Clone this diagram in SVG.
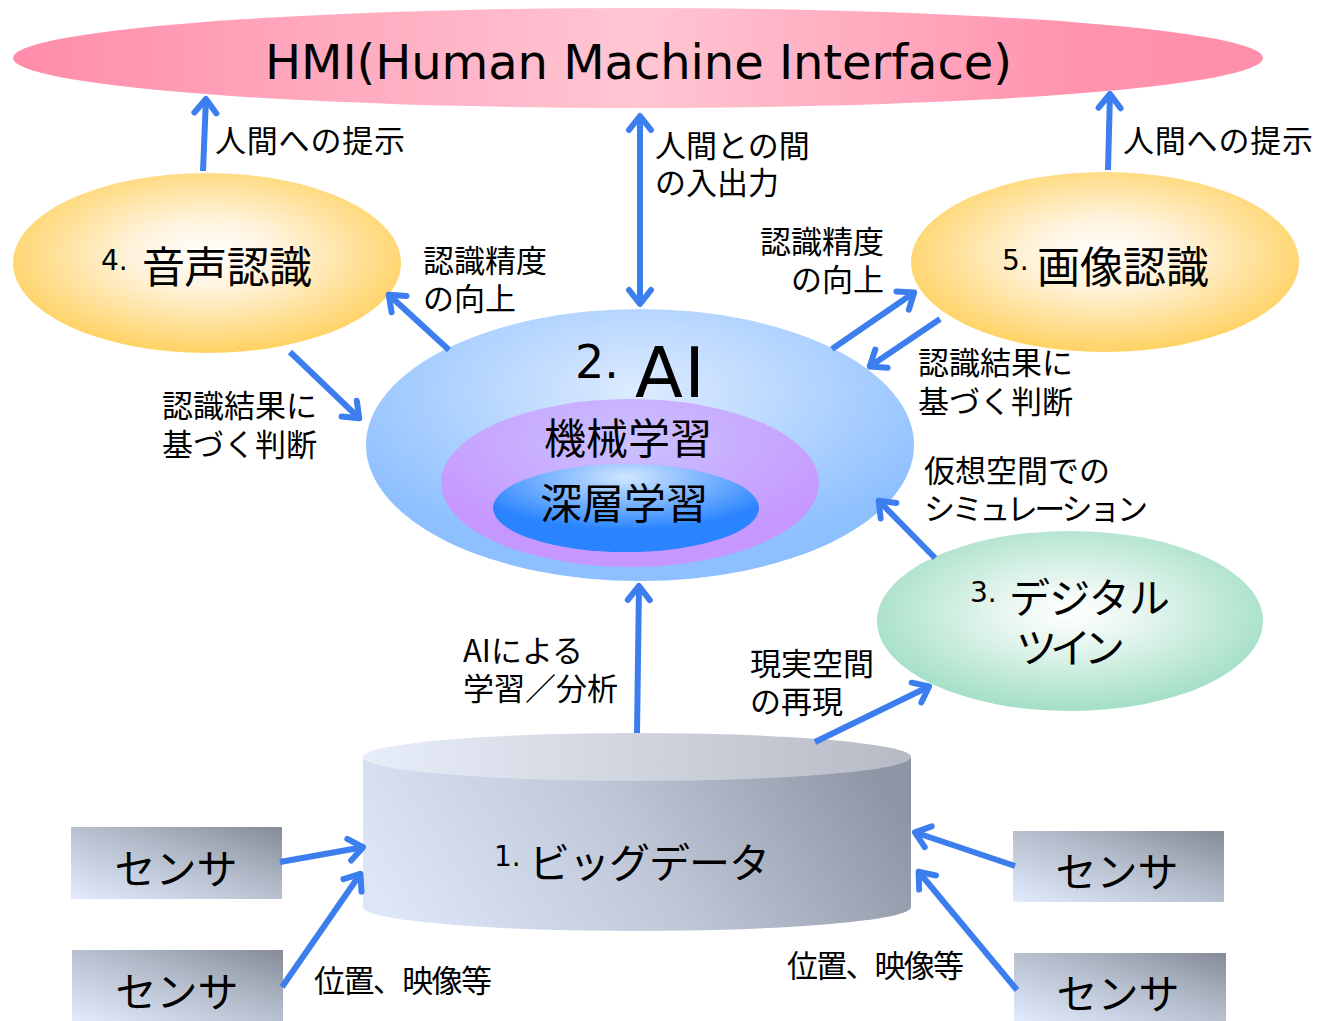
<svg xmlns="http://www.w3.org/2000/svg" width="1317" height="1021" viewBox="0 0 1317 1021">
  <style>
    text { font-family: "Noto Sans CJK JP", "Noto Sans", sans-serif; fill: #000; }
    .lat { font-family: "DejaVu Sans", "Noto Sans CJK JP", sans-serif; }
    .lbl { font-size: 31px; }
    .big { font-size: 43px; }
    .num { font-size: 28px; font-family: "DejaVu Sans", sans-serif; }
    .conn line { stroke: #3D7EEE; stroke-width: 6; fill: none; marker-end: url(#ah); }
    .sensor text { font-size: 41px; text-anchor: middle; }
  </style>
  <defs>
    <marker id="ah" viewBox="-20 -14 24 28" markerWidth="24" markerHeight="28" refX="0" refY="0" orient="auto-start-reverse" markerUnits="userSpaceOnUse" overflow="visible">
      <path d="M-15,-11 L-1,0 L-15,11" fill="none" stroke="#3D7EEE" stroke-width="6" stroke-linecap="round" stroke-linejoin="round"/>
    </marker>
    <linearGradient id="gHmi" x1="0" y1="0" x2="1" y2="0">
      <stop offset="0" stop-color="#FF8CAA"/>
      <stop offset="0.5" stop-color="#FFC6D3"/>
      <stop offset="0.85" stop-color="#FF93AE"/>
      <stop offset="1" stop-color="#FF8FAB"/>
    </linearGradient>
    <radialGradient id="gYel" cx="0.5" cy="0.45" r="0.55">
      <stop offset="0" stop-color="#FFFFFF"/>
      <stop offset="0.35" stop-color="#FFF3DC"/>
      <stop offset="1" stop-color="#FFD263"/>
    </radialGradient>
    <radialGradient id="gGrn" cx="0.5" cy="0.45" r="0.55">
      <stop offset="0" stop-color="#FFFFFF"/>
      <stop offset="0.3" stop-color="#EAF7F1"/>
      <stop offset="1" stop-color="#A3DFC6"/>
    </radialGradient>
    <radialGradient id="gAi" cx="0.5" cy="0.3" r="0.6">
      <stop offset="0" stop-color="#DDEBFF"/>
      <stop offset="1" stop-color="#8EC0FF"/>
    </radialGradient>
    <radialGradient id="gMl" cx="0.5" cy="0.25" r="0.6">
      <stop offset="0" stop-color="#CBC2FF"/>
      <stop offset="1" stop-color="#C698FF"/>
    </radialGradient>
    <radialGradient id="gDl" cx="0.5" cy="0.15" r="0.6">
      <stop offset="0" stop-color="#CFE6FF"/>
      <stop offset="1" stop-color="#2A84FF"/>
    </radialGradient>
    <linearGradient id="gSen" x1="0" y1="1" x2="1" y2="0">
      <stop offset="0" stop-color="#E1EBFC"/>
      <stop offset="0.55" stop-color="#B4BCCB"/>
      <stop offset="1" stop-color="#858B97"/>
    </linearGradient>
    <linearGradient id="gCylSide" x1="0" y1="0.6" x2="1" y2="0.4">
      <stop offset="0" stop-color="#DCE6F8"/>
      <stop offset="0.5" stop-color="#BFC7D7"/>
      <stop offset="1" stop-color="#8E95A5"/>
    </linearGradient>
    <linearGradient id="gCylTop" x1="0" y1="0" x2="1" y2="0">
      <stop offset="0" stop-color="#E8EEF9"/>
      <stop offset="1" stop-color="#B6BAC4"/>
    </linearGradient>
  </defs>

  <!-- HMI layer -->
  <g id="hmi">
    <ellipse cx="638" cy="58" rx="625" ry="50" fill="url(#gHmi)"/>
    <text class="lat" x="265" y="79" font-size="48" textLength="747">HMI(Human Machine Interface)</text>
  </g>

  <!-- 4. speech recognition -->
  <g id="speech">
    <ellipse cx="207" cy="263" rx="194" ry="90" fill="url(#gYel)"/>
    <text class="num" x="101" y="270">4.</text>
    <text class="big" x="142" y="283" textLength="170">音声認識</text>
  </g>

  <!-- 5. image recognition -->
  <g id="image">
    <ellipse cx="1105" cy="262" rx="194" ry="90" fill="url(#gYel)"/>
    <text class="num" x="1002" y="270">5.</text>
    <text class="big" x="1037" y="283" textLength="172">画像認識</text>
  </g>

  <!-- 2. AI with nested ML / DL -->
  <g id="ai">
    <ellipse cx="640" cy="445" rx="274" ry="136" fill="url(#gAi)"/>
    <ellipse cx="630" cy="483" rx="189" ry="84" fill="url(#gMl)"/>
    <ellipse cx="626" cy="508" rx="133" ry="44" fill="url(#gDl)"/>
    <text class="lat" x="575" y="378" font-size="46">2.</text>
    <text class="lat" x="635" y="397" font-size="70" textLength="70">AI</text>
    <text x="628" y="454" font-size="42" text-anchor="middle">機械学習</text>
    <text x="624" y="519" font-size="42" text-anchor="middle">深層学習</text>
  </g>

  <!-- 3. digital twin -->
  <g id="twin">
    <ellipse cx="1070" cy="621" rx="193" ry="90" fill="url(#gGrn)"/>
    <text class="num" x="970" y="602">3.</text>
    <text font-size="41"><tspan x="1009" y="613" textLength="161">デジタル</tspan><tspan x="1016" y="663" textLength="109">ツイン</tspan></text>
  </g>

  <!-- 1. big data store -->
  <g id="bigdata">
    <path d="M363,757 L363,907 A274,24 0 0 0 911,907 L911,757 Z" fill="url(#gCylSide)"/>
    <ellipse cx="637" cy="757" rx="274" ry="24" fill="url(#gCylTop)"/>
    <text class="num" x="494" y="866">1.</text>
    <text x="529" y="878" font-size="41" textLength="241">ビッグデータ</text>
  </g>

  <!-- sensors -->
  <g id="sensor-tl" class="sensor">
    <rect x="71" y="827" width="211" height="72" fill="url(#gSen)"/>
    <text x="176" y="884">センサ</text>
  </g>
  <g id="sensor-bl" class="sensor">
    <rect x="72" y="950" width="211" height="71" fill="url(#gSen)"/>
    <text x="177" y="1007">センサ</text>
  </g>
  <g id="sensor-tr" class="sensor">
    <rect x="1013" y="831" width="211" height="71" fill="url(#gSen)"/>
    <text x="1117" y="887">センサ</text>
  </g>
  <g id="sensor-br" class="sensor">
    <rect x="1014" y="953" width="212" height="68" fill="url(#gSen)"/>
    <text x="1118" y="1009">センサ</text>
  </g>

  <!-- connectors -->
  <g id="connectors" class="conn">
    <line x1="203" y1="171" x2="206" y2="98"/>
    <line x1="1108" y1="170" x2="1110" y2="93"/>
    <line x1="640" y1="115" x2="640" y2="305" marker-start="url(#ah)"/>
    <line x1="449" y1="350" x2="388" y2="294"/>
    <line x1="290" y1="352" x2="360" y2="419"/>
    <line x1="832" y1="349" x2="915" y2="292"/>
    <line x1="940" y1="319" x2="869" y2="367"/>
    <line x1="935" y1="558" x2="878" y2="500"/>
    <line x1="637" y1="733" x2="639" y2="585"/>
    <line x1="815" y1="742" x2="930" y2="686"/>
    <line x1="280" y1="862" x2="364" y2="847"/>
    <line x1="282" y1="987" x2="361" y2="873"/>
    <line x1="1015" y1="866" x2="914" y2="832"/>
    <line x1="1017" y1="990" x2="918" y2="871"/>
  </g>

  <!-- connector labels (two-line labels kept as one text each) -->
  <g id="labels" class="lbl">
    <text x="215" y="152" textLength="190">人間への提示</text>
    <text x="1123" y="152" textLength="190">人間への提示</text>
    <text><tspan x="655" y="157">人間との間</tspan><tspan x="655" y="194">の入出力</tspan></text>
    <text><tspan x="423" y="272">認識精度</tspan><tspan x="423" y="310">の向上</tspan></text>
    <text text-anchor="end"><tspan x="884" y="253">認識精度</tspan><tspan x="884" y="291">の向上</tspan></text>
    <text><tspan x="162" y="417">認識結果に</tspan><tspan x="162" y="456">基づく判断</tspan></text>
    <text><tspan x="918" y="374">認識結果に</tspan><tspan x="918" y="413">基づく判断</tspan></text>
    <text><tspan x="924" y="482">仮想空間での</tspan><tspan x="924" y="520" textLength="224">シミュレーション</tspan></text>
    <text><tspan x="463" y="662">AIによる</tspan><tspan x="463" y="700">学習／分析</tspan></text>
    <text><tspan x="750" y="675">現実空間</tspan><tspan x="750" y="713">の再現</tspan></text>
    <text x="314" y="992" textLength="178">位置、映像等</text>
    <text x="787" y="977" textLength="177">位置、映像等</text>
  </g>
</svg>
